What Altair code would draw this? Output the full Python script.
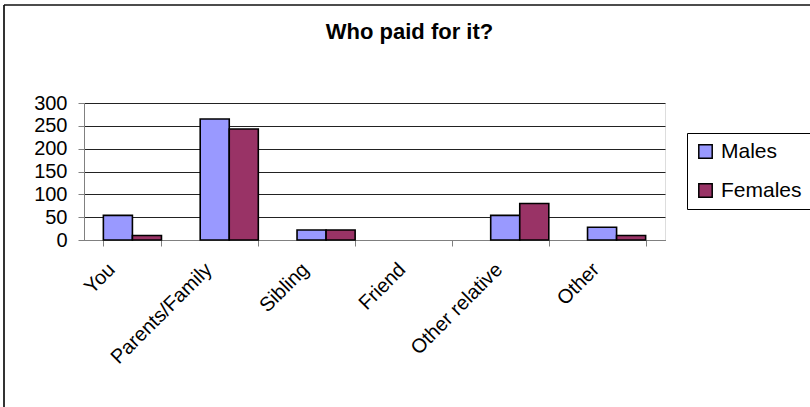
import altair as alt
import pandas as pd

categories = ["You", "Parents/Family", "Sibling", "Friend", "Other relative", "Other"]
males = [54, 265, 22, 0, 54, 28]
females = [10, 243, 22, 0, 80, 10]
series = ["Males", "Females"]
colors = ["#9999FF", "#993366"]
title_text = "Who paid for it?"

rows = []
for c, m, f in zip(categories, males, females):
    rows.append({"cat": c, "series": "Males", "value": m})
    rows.append({"cat": c, "series": "Females", "value": f})
df = pd.DataFrame(rows)

FONT = "Liberation Sans"

bars = alt.Chart(df).mark_bar(stroke="black", strokeWidth=1.6).encode(
    x=alt.X("cat:N", sort=categories, title=None,
            scale=alt.Scale(paddingInner=0.4, paddingOuter=0.2),
            axis=alt.Axis(labelAngle=-45, labelFontSize=20, labelFont=FONT,
                          labelColor="black", tickBand="extent", tickSize=6,
                          tickColor="#808080", domainColor="#808080",
                          labelPadding=13, labelOffset=-28, grid=False)),
    xOffset=alt.XOffset("series:N", sort=series),
    y=alt.Y("value:Q", title=None,
            scale=alt.Scale(domain=[0, 300], nice=False),
            axis=alt.Axis(values=[0, 50, 100, 150, 200, 250, 300], labelFontSize=20,
                          labelFont=FONT, labelColor="black", tickSize=6,
                          tickColor="#808080", domainColor="#808080",
                          gridColor="#222222", gridWidth=1, labelPadding=11)),
    color=alt.Color("series:N", sort=series,
                    scale=alt.Scale(domain=series, range=colors),
                    legend=alt.Legend(title=None, orient="none", legendX=603, legendY=30,
                                      symbolType="square", symbolSize=180,
                                      symbolStrokeColor="black", symbolStrokeWidth=1.5,
                                      labelFontSize=21, labelFont=FONT, labelColor="black",
                                      labelOffset=5, rowPadding=17, padding=8,
                                      strokeColor="black", fillColor="white")),
    strokeOpacity=alt.condition("datum.value > 0", alt.value(1), alt.value(0)),
)

frame_df = pd.DataFrame({"a": [0]})
frame_left = alt.Chart(frame_df).mark_rule(color="#333333", strokeWidth=2).encode(
    x=alt.value(-80), y=alt.value(-98), y2=alt.value(320))
frame_top = alt.Chart(frame_df).mark_rule(color="#111111", strokeWidth=1.5).encode(
    x=alt.value(-80), x2=alt.value(740), y=alt.value(-98))

title = alt.Chart(pd.DataFrame({"t": [title_text]})).mark_text(
    font=FONT, fontSize=22, fontWeight="bold", color="black",
    align="center", baseline="alphabetic").encode(
    text="t:N", x=alt.value(325.5), y=alt.value(-64))

chart = alt.layer(bars, frame_left, frame_top, title).properties(
    width=581, height=137,
    autosize=alt.AutoSizeParams(type="none"),
    padding={"left": 84, "top": 103, "right": 145, "bottom": 167},
).configure_view(stroke="#808080", strokeWidth=1).configure(background="white")

chart.save("out.html", embed_options={"renderer": "svg", "actions": False})
